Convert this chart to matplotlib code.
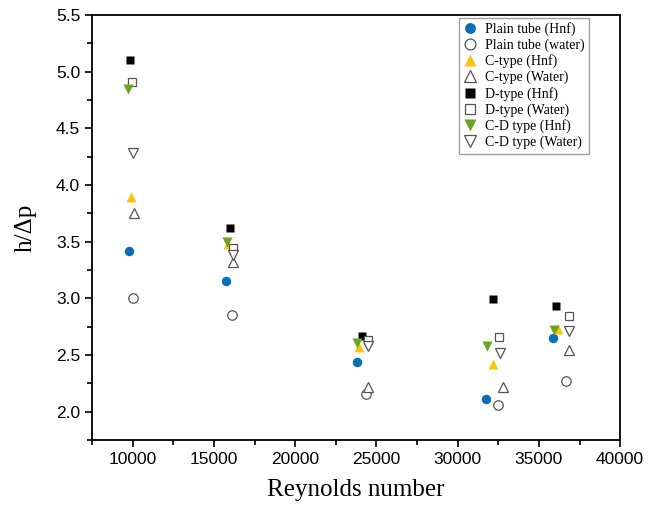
import matplotlib
matplotlib.use("Agg")
import matplotlib.pyplot as plt
from matplotlib.ticker import MultipleLocator

# Reynolds numbers (slightly offset per series, as in the original) and h/dp values
plain_hnf_re = [9790, 15760, 23800, 31760, 35870]
plain_hnf = [3.42, 3.15, 2.44, 2.11, 2.65]
plain_w_re = [10050, 16110, 24340, 32460, 36660]
plain_w = [3.00, 2.85, 2.16, 2.06, 2.27]
c_hnf_re = [9880, 15850, 23950, 32170, 36150]
c_hnf = [3.89, 3.48, 2.57, 2.42, 2.73]
c_w_re = [10080, 16190, 24500, 32770, 36850]
c_w = [3.75, 3.32, 2.22, 2.22, 2.54]
d_hnf_re = [9815, 15990, 24130, 32150, 36070]
d_hnf = [5.10, 3.62, 2.67, 2.99, 2.93]
d_w_re = [9975, 16190, 24500, 32520, 36830]
d_w = [4.91, 3.44, 2.635, 2.66, 2.84]
cd_hnf_re = [9730, 15780, 23800, 31820, 35930]
cd_hnf = [4.85, 3.50, 2.61, 2.58, 2.72]
cd_w_re = [10020, 16190, 24500, 32600, 36830]
cd_w = [4.28, 3.38, 2.58, 2.515, 2.71]

fig = plt.figure(figsize=(6.48, 5.09), dpi=100)
ax = fig.add_axes([0.142, 0.1356, 0.815, 0.835])

ec = "#555555"
ms = 6.8
ax.plot(plain_hnf_re, plain_hnf, "o", color="#0a6db5", ms=ms, mec="none", label="Plain tube (Hnf)")
ax.plot(plain_w_re, plain_w, "o", mfc="white", mec=ec, mew=0.9, ms=ms, label="Plain tube (water)")
ax.plot(c_hnf_re, c_hnf, "^", color="#ffc20e", ms=ms + 1, mec="none", label="C-type (Hnf)")
ax.plot(c_w_re, c_w, "^", mfc="white", mec=ec, mew=0.9, ms=ms + 1, label="C-type (Water)")
ax.plot(d_hnf_re, d_hnf, "s", color="black", ms=ms - 0.5, mec="none", label="D-type (Hnf)")
ax.plot(d_w_re, d_w, "s", mfc="white", mec=ec, mew=0.9, ms=ms - 0.5, label="D-type (Water)")
ax.plot(cd_hnf_re, cd_hnf, "v", color="#6aa51e", ms=ms + 1, mec="none", label="C-D type (Hnf)")
ax.plot(cd_w_re, cd_w, "v", mfc="white", mec=ec, mew=0.9, ms=ms + 1, label="C-D type (Water)")

ax.set_xlim(7500, 40000)
ax.set_ylim(1.75, 5.5)
ax.xaxis.set_major_locator(MultipleLocator(5000))
ax.xaxis.set_minor_locator(MultipleLocator(2500))
ax.yaxis.set_major_locator(MultipleLocator(0.5))
ax.yaxis.set_minor_locator(MultipleLocator(0.25))
ax.set_xticks([10000, 15000, 20000, 25000, 30000, 35000, 40000])
ax.yaxis.set_major_formatter(matplotlib.ticker.FormatStrFormatter("%.1f"))

for s in ax.spines.values():
    s.set_linewidth(1.3)
ax.tick_params(which="both", direction="out", width=1.2, labelsize=12.5)
ax.tick_params(which="major", length=5)
ax.tick_params(which="minor", length=3.5)
for lab in ax.get_xticklabels() + ax.get_yticklabels():
    lab.set_family("Liberation Sans")

ax.set_xlabel("Reynolds number", family="Liberation Serif", fontsize=18, labelpad=9)
ax.set_ylabel("h/Δp", family="Liberation Serif", fontsize=18, labelpad=14)

leg = ax.legend(loc="upper right", bbox_to_anchor=(0.941, 0.993),
                prop={"family": "Liberation Serif", "size": 10},
                frameon=True, fancybox=False, edgecolor="#888888",
                handlelength=1.0, handletextpad=0.6, labelspacing=0.18,
                borderpad=0.3, borderaxespad=0, markerscale=1.15)
leg.get_frame().set_linewidth(1.0)

fig.savefig("out.png", dpi=100)
